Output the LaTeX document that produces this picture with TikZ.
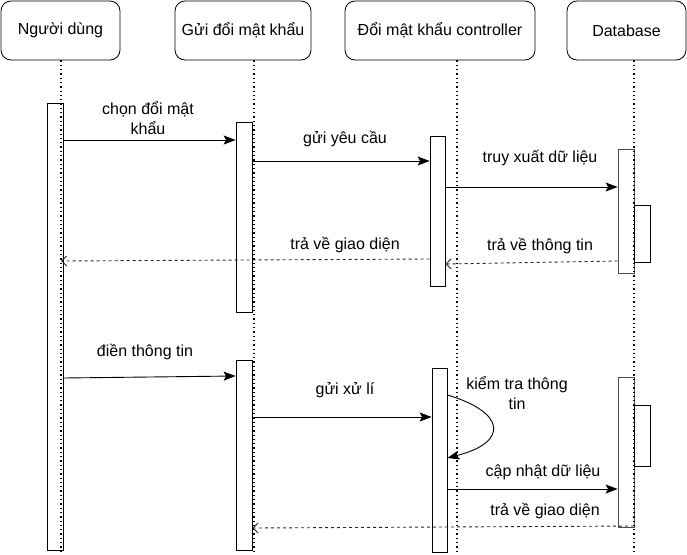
\documentclass[tikz,border=0pt]{standalone}
\usepackage{fontspec}
\setmainfont{Liberation Sans}
\usetikzlibrary{arrows.meta,calc}
\begin{document}
\begin{tikzpicture}[x=1pt,y=-1pt,
  font=\fontsize{16}{20}\selectfont,
  head/.style={draw, rounded corners=10pt, fill=white, line width=0.8pt, inner sep=0pt},
  bar/.style={draw, fill=white, line width=0.8pt, inner sep=0pt, minimum width=16pt},
  life/.style={line width=1.3pt, dash pattern=on 1.3pt off 3pt},
  msg/.style={line width=0.9pt, -{Stealth[length=12pt,width=9pt,inset=2.5pt]}},
  ret/.style={line width=0.9pt, black!85, dash pattern=on 3pt off 3pt, -{Straight Barb[length=5pt,width=10pt]}},
  lbl/.style={align=center, inner sep=0pt}]
\useasboundingbox (0,0) rectangle (687,554);
% headers
\node[head, minimum width=119pt, minimum height=59pt] (h1) at (60.5,30.5) {Người dùng};
\node[head, minimum width=136pt, minimum height=59pt] (h2) at (243,30.5) {Gửi đổi mật khẩu};
\node[head, minimum width=190pt, minimum height=59pt] (h3) at (440,30.5) {Đổi mật khẩu controller};
\node[head, minimum width=119pt, minimum height=59pt] (h4) at (626.5,30.5) {Database};
% activation bars
\node[bar, minimum height=447pt] (u1) at (55,326.5) {};
\node[bar, minimum height=190pt] (g1) at (244,217) {};
\node[bar, minimum height=190pt] (g2) at (244,455) {};
\node[bar, minimum width=15pt, minimum height=150pt] (c1) at (437.5,211) {};
\node[bar, minimum width=15pt, minimum height=184pt] (c2) at (439.5,460) {};
\node[bar, draw=black!70, minimum height=124pt] (d1) at (626,211) {};
\node[bar, minimum height=57pt] (d1s) at (642,233.5) {};
\node[bar, draw=black!70, minimum height=150pt] (d2) at (626,452) {};
\node[bar, minimum height=61pt] (d2s) at (642,435.5) {};
% lifelines
\coordinate (l1) at (61,554);
\coordinate (l2) at (254,554);
\coordinate (l3) at (457,554);
\coordinate (l4) at (634,554);
\draw[life] (h1.south -| l1) -- (l1);
\draw[life] (h2.south -| l2) -- (l2);
\draw[life] (h3.south -| l3) -- (l3);
\draw[life] (h4.south -| l4) -- (l4);
% messages
\coordinate (m1) at (0,140);
\draw[msg] (u1.east |- m1) -- (g1.west |- m1);
\node[lbl] (t1) at (148,118) {chọn đổi mật\\khẩu};
\coordinate (m2) at (0,161);
\draw[msg] (g1.east |- m2) -- (c1.west |- m2);
\node[lbl] (t2) at (345,139) {gửi yêu cầu};
\coordinate (m3) at (0,187);
\draw[msg] (c1.east |- m3) -- (d1.west |- m3);
\node[lbl] (t3) at (540,158) {truy xuất dữ liệu};
\coordinate (m4) at (0,261);
\coordinate (m4b) at (0,264);
\draw[ret] (d1.west |- m4) -- (c1.east |- m4b);
\node[lbl] (t4) at (540,246) {trả về thông tin};
\coordinate (m5) at (0,259);
\coordinate (m5b) at (0,261);
\draw[ret] (c1.west |- m5) -- (l1 |- m5b);
\node[lbl] (t5) at (345,245) {trả về giao diện};
% second part
\coordinate (m6) at (0,378);
\coordinate (m6b) at (0,376);
\draw[msg] (u1.east |- m6) -- (g2.west |- m6b);
\node[lbl] (t6) at (145,352) {điền thông tin};
\coordinate (m7) at (0,417);
\draw[msg] (g2.east |- m7) -- (c2.west |- m7);
\node[lbl] (t7) at (345,390) {gửi xử lí};
\coordinate (m8a) at (0,395);
\coordinate (m8b) at (0,458);
\draw[msg] (c2.east |- m8a) .. controls (505,412) and (510,442) .. (c2.east |- m8b);
\node[lbl] (t8) at (517,393) {kiểm tra thông\\tin};
\coordinate (m9) at (0,489);
\draw[msg] (c2.east |- m9) -- (d2.west |- m9);
\node[lbl] (t9) at (543,472) {cập nhật dữ liệu};
\coordinate (m10) at (0,526);
\coordinate (m10b) at (0,528);
\draw[ret] (l4 |- m10) -- (g2.east |- m10b);
\node[lbl] (t10) at (545,511) {trả về giao diện};
\end{tikzpicture}
\end{document}
